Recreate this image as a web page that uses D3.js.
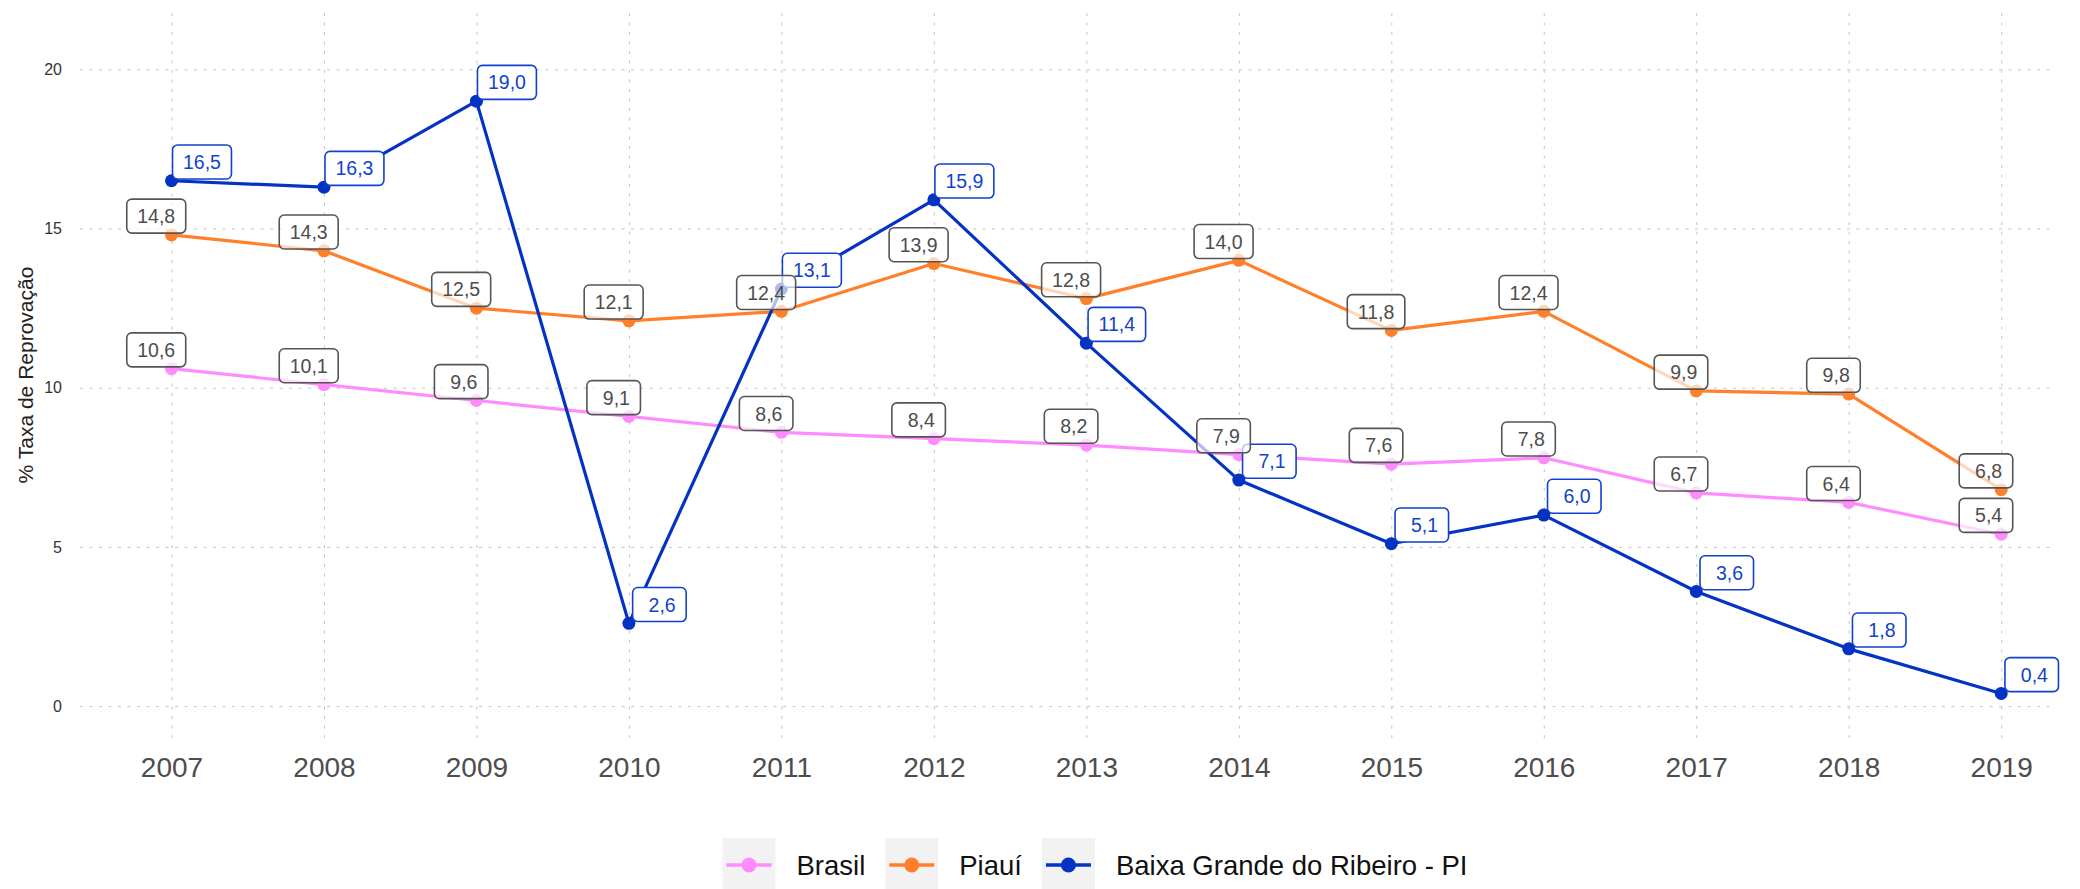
<!DOCTYPE html>
<html>
<head>
<meta charset="utf-8">
<script src="https://cdn.jsdelivr.net/npm/d3@7"></script>
<style>
  html, body { margin: 0; padding: 0; background: #ffffff; }
  svg { display: block; font-family: "Liberation Sans", Arial, Helvetica, sans-serif; }
  .lbl text { white-space: pre; }
</style>
</head>
<body>
<svg id="chart" width="2080" height="889"></svg>
<script>
// Taxa de reprovação (%) por ano
const years = [2007, 2008, 2009, 2010, 2011, 2012, 2013, 2014, 2015, 2016, 2017, 2018, 2019];
const brasil = [10.6, 10.1, 9.6, 9.1, 8.6, 8.4, 8.2, 7.9, 7.6, 7.8, 6.7, 6.4, 5.4];
const piaui = [14.8, 14.3, 12.5, 12.1, 12.4, 13.9, 12.8, 14.0, 11.8, 12.4, 9.9, 9.8, 6.8];
const baixaGrande = [16.5, 16.3, 19.0, 2.6, 13.1, 15.9, 11.4, 7.1, 5.1, 6.0, 3.6, 1.8, 0.4];
const seriesNames = ["Brasil", "Piauí", "Baixa Grande do Ribeiro - PI"];
const yTicks = [0, 5, 10, 15, 20];
const yTitle = "% Taxa de Reprovação";

const colors = ["#ff8cff", "#ff7f2a", "#0433c4"];
const blueText = "#1242cc";
const greyText = "#4d4d4d";

const series = [
  { name: seriesNames[0], values: brasil, color: colors[0], labelKind: "grey" },
  { name: seriesNames[1], values: piaui, color: colors[1], labelKind: "grey" },
  { name: seriesNames[2], values: baixaGrande, color: colors[2], labelKind: "blue" }
];

const svg = d3.select("#chart");
const panel = { left: 80, right: 2050, top: 12, bottom: 738 };

const x = d3.scaleLinear().domain([2006.40, 2019.32]).range([panel.left, panel.right]);
const y = d3.scaleLinear().domain([-1.0, 21.8]).range([panel.bottom, panel.top]);

// Grid + axes
const yAxis = d3.axisLeft(y)
  .tickValues(yTicks)
  .tickSize(-(panel.right - panel.left))
  .tickPadding(18)
  .tickFormat(d3.format("d"));
const gy = svg.append("g").attr("transform", `translate(${panel.left},0)`).call(yAxis);
gy.select(".domain").remove();
gy.selectAll(".tick line")
  .attr("stroke", "#c4c4c4").attr("stroke-width", 1).attr("stroke-dasharray", "3,6.5");
gy.selectAll(".tick text")
  .attr("fill", "#333333").style("font-size", "16px")
  .style("font-family", "'Liberation Sans', Arial, sans-serif");

const xAxis = d3.axisBottom(x)
  .tickValues(years)
  .tickSize(-(panel.bottom - panel.top))
  .tickPadding(19)
  .tickFormat(d3.format("d"));
const gx = svg.append("g").attr("transform", `translate(0,${panel.bottom})`).call(xAxis);
gx.select(".domain").remove();
gx.selectAll(".tick line")
  .attr("stroke", "#c4c4c4").attr("stroke-width", 1).attr("stroke-dasharray", "3,6.5");
gx.selectAll(".tick text")
  .attr("fill", greyText).style("font-size", "28px")
  .style("font-family", "'Liberation Sans', Arial, sans-serif");

// Y axis title
svg.append("text")
  .attr("transform", `translate(25,${(panel.top + panel.bottom) / 2}) rotate(-90)`)
  .attr("text-anchor", "middle")
  .attr("dominant-baseline", "central")
  .attr("fill", "#222222")
  .style("font-size", "21px")
  .text(yTitle);

// Lines
const line = d3.line().x((d, i) => x(years[i])).y(d => y(d));
series.forEach(s => {
  svg.append("path")
    .datum(s.values)
    .attr("fill", "none")
    .attr("stroke", s.color)
    .attr("stroke-width", 3.2)
    .attr("stroke-linejoin", "round")
    .attr("d", line);
});

// Points
series.forEach(s => {
  svg.append("g").selectAll("circle")
    .data(s.values)
    .join("circle")
    .attr("cx", (d, i) => x(years[i]))
    .attr("cy", d => y(d))
    .attr("r", 6.5)
    .attr("fill", s.color);
});

// Value labels (comma decimal, padded to four characters)
const fmt = v => {
  const s = d3.format(".1f")(v).replace(".", ",");
  return s.length < 4 ? " ".repeat(4 - s.length) + s : s;
};

function drawLabels(s, kind) {
  const g = svg.append("g").attr("class", "lbl");
  const isBlue = kind === "blue";
  const stroke = isBlue ? blueText : "#555555";
  const txtColor = isBlue ? blueText : greyText;
  const fill = isBlue ? "rgba(255,255,255,1)" : "rgba(255,255,255,0.68)";
  const padX = 10.5, h = 34;
  s.values.forEach((v, i) => {
    const lg = g.append("g");
    const t = lg.append("text")
      .attr("xml:space", "preserve")
      .style("font-size", "19.5px")
      .attr("fill", txtColor)
      .text(fmt(v));
    const w = t.node().getComputedTextLength() + 2 * padX;
    const cx = isBlue ? x(years[i] + 0.2) : x(years[i] - 0.1);
    const bottom = y(v) - 1.8;
    const left = cx - w / 2;
    lg.insert("rect", "text")
      .attr("x", left).attr("y", bottom - h)
      .attr("width", w).attr("height", h)
      .attr("rx", 5).attr("ry", 5)
      .attr("fill", fill)
      .attr("stroke", stroke)
      .attr("stroke-width", 1.6);
    t.attr("x", left + padX).attr("y", bottom - h / 2)
      .attr("dy", "0.36em");
  });
}
drawLabels(series[2], "blue");
drawLabels(series[0], "grey");
drawLabels(series[1], "grey");

// Legend
const legend = svg.append("g");
const keyW = 53, keyH = 53, keyTop = 838, gapKT = 21, gapTK = 20;
const items = series.map(s => {
  const t = legend.append("text")
    .style("font-size", "27.5px")
    .attr("fill", "#111111")
    .text(s.name);
  return { s, t, tw: t.node().getComputedTextLength() };
});
const total = items.reduce((a, it) => a + keyW + gapKT + it.tw, 0) + gapTK * (items.length - 1);
let cursor = 1095 - total / 2;
items.forEach(it => {
  legend.insert("rect", "text")
    .attr("x", cursor).attr("y", keyTop)
    .attr("width", keyW).attr("height", keyH)
    .attr("fill", "#f2f2f2");
  const cy = keyTop + 27;
  legend.append("line")
    .attr("x1", cursor + 4).attr("x2", cursor + keyW - 4)
    .attr("y1", cy).attr("y2", cy)
    .attr("stroke", it.s.color).attr("stroke-width", 3.5);
  legend.append("circle")
    .attr("cx", cursor + keyW / 2).attr("cy", cy).attr("r", 7.5)
    .attr("fill", it.s.color);
  it.t.attr("x", cursor + keyW + gapKT).attr("y", cy).attr("dy", "0.35em");
  cursor += keyW + gapKT + it.tw + gapTK;
});
</script>
</body>
</html>
